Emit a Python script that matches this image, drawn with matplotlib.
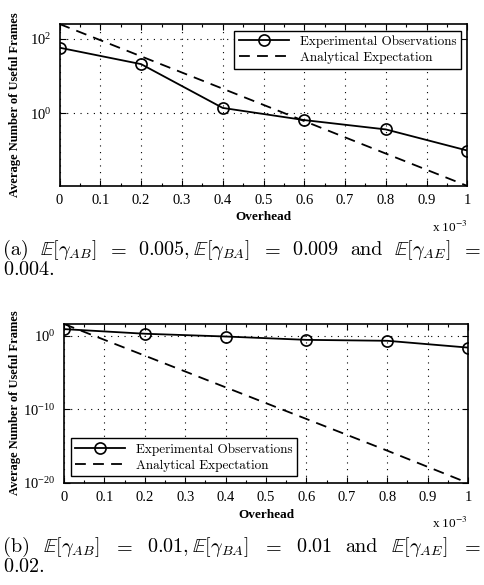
import matplotlib
matplotlib.use('Agg')
import matplotlib.pyplot as plt
from matplotlib.ticker import FixedLocator, MultipleLocator, NullLocator, FuncFormatter

plt.rcParams['font.family'] = 'Liberation Serif'
plt.rcParams['mathtext.fontset'] = 'stix'

# overhead in units of 1e-3
overhead = [0, 0.2, 0.4, 0.6, 0.8, 1.0]

# (a) E[gAB]=0.005, E[gBA]=0.009, E[gAE]=0.004
exp_a = [58, 21, 1.4, 0.66, 0.37, 0.10]
ana_a = [251, 34, 4.6, 0.62, 0.083, 0.0112]

# (b) E[gAB]=0.01, E[gBA]=0.01, E[gAE]=0.02
exp_b = [8.1, 1.9, 0.8, 0.28, 0.21, 0.025]
ana_b = [40, 2e-3, 1e-7, 5e-12, 2.5e-16, 1e-20]

xticks = [0, 0.1, 0.2, 0.3, 0.4, 0.5, 0.6, 0.7, 0.8, 0.9, 1.0]
yticks_a = [1, 100]
yticks_b = [1e-20, 1e-10, 1]

ylabel = 'Average Number of Useful Frames'
legend_labels = ['Experimental Observations', 'Analytical Expectation']

W, H = 484, 585
fig = plt.figure(figsize=(W / 100, H / 100), dpi=100)


def px_axes(left, top, right, bottom):
    return fig.add_axes([left / W, 1 - bottom / H, (right - left) / W, (bottom - top) / H])


def setup(ax, exp, ana, yticks, legend_loc):
    l1, = ax.plot(overhead, exp, '-', color='k', lw=1.3, marker='o', ms=8,
                  mfc='none', mec='k', mew=1.2)
    l2, = ax.plot(overhead, ana, '--', color='k', lw=1.3, dashes=(6, 4))
    ax.set_yscale('log')
    ax.set_xlim(0, 1)
    ax.set_ylim(min(ana), max(ana))
    ax.xaxis.set_major_locator(FixedLocator(xticks))
    ax.xaxis.set_minor_locator(MultipleLocator(0.05))
    ax.xaxis.set_major_formatter(FuncFormatter(lambda v, p: f'{v:g}'))
    ax.yaxis.set_major_locator(FixedLocator(yticks))
    ax.yaxis.set_minor_locator(NullLocator())
    ax.tick_params(which='both', direction='in', top=True, right=True,
                   labelsize=10.5, width=0.8, pad=6)
    ax.tick_params(which='major', length=4)
    ax.tick_params(which='minor', length=2)
    ax.grid(True, which='major', color='k', linestyle=(0, (1, 5)), linewidth=0.8)
    for s in ax.spines.values():
        s.set_linewidth(1.2)
    ax.set_xlabel('Overhead', fontweight='bold', fontsize=9.5, labelpad=3)
    ax.text(1.0, -0.21, r'x 10$^{-3}$', transform=ax.transAxes, ha='right',
            va='top', fontsize=9.5)
    leg = ax.legend([l1, l2], legend_labels, loc=legend_loc, prop={'family': 'cmr10', 'size': 9.5},
                    fancybox=False, framealpha=1, edgecolor='k', handlelength=3.8,
                    borderpad=0.35, labelspacing=0.3, borderaxespad=0.5)
    leg.get_frame().set_linewidth(1.0)


ax1 = px_axes(59.5, 24, 467.5, 186)
setup(ax1, exp_a, ana_a, yticks_a, 'upper right')
ax2 = px_axes(64, 324, 468, 483)
setup(ax2, exp_b, ana_b, yticks_b, 'lower left')

fig.text(15 / W, 1 - 105 / H, ylabel, rotation=90, ha='center', va='center',
         fontweight='bold', fontsize=9)
fig.text(15 / W, 1 - 403 / H, ylabel, rotation=90, ha='center', va='center',
         fontweight='bold', fontsize=9)

# captions, justified between x0 and x1
renderer = fig.canvas.get_renderer()
X0, X1 = 3, 481
SPACE_EM = 0.5


def make_tokens(tokens, y, size):
    texts = []
    for tok in tokens:
        if tok.startswith('$'):
            t = fig.text(0, 1 - y / H, tok, fontsize=size, math_fontfamily='cm', va='baseline')
        else:
            t = fig.text(0, 1 - y / H, tok, fontsize=size, family='cmr10', va='baseline')
        texts.append(t)
    return texts


def caption_line(tokens, y, size, justify=True):
    texts = make_tokens(tokens, y, size)
    widths = [t.get_window_extent(renderer).width for t in texts]
    space = size * 100 / 72 * SPACE_EM
    if justify and len(texts) > 1:
        space = (X1 - X0 - sum(widths)) / (len(texts) - 1)
    x = X0
    for t, w in zip(texts, widths):
        t.set_x(x / W)
        x += w + space


cap_a = ['(a)', r'$\mathbb{E}[\gamma_{AB}]$', '$=$', r'$0.005,\mathbb{E}[\gamma_{BA}]$', '$=$',
         '$0.009$', 'and', r'$\mathbb{E}[\gamma_{AE}]$', '$=$']
cap_b = ['(b)', r'$\mathbb{E}[\gamma_{AB}]$', '$=$', r'$0.01,\mathbb{E}[\gamma_{BA}]$', '$=$',
         '$0.01$', 'and', r'$\mathbb{E}[\gamma_{AE}]$', '$=$']

# pick caption size so that line (a) fills the width at natural spacing
probe = make_tokens(cap_a, 0, 10)
natural = sum(t.get_window_extent(renderer).width for t in probe) + 8 * 10 * 100 / 72 * SPACE_EM
for t in probe:
    t.remove()
cap_size = 10 * (X1 - X0) / natural

caption_line(cap_a, 255, cap_size)
caption_line(['$0.004.$'], 275, cap_size, justify=False)
caption_line(cap_b, 552, cap_size)
caption_line(['$0.02.$'], 572, cap_size, justify=False)

fig.savefig('out.png', dpi=100)
